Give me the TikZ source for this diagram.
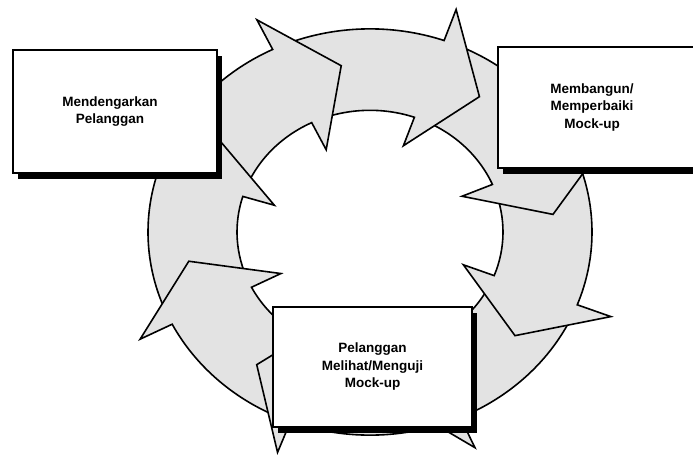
\documentclass[tikz,border=0pt]{standalone}
\usepackage{fontspec}
\setmainfont{Liberation Sans}
\usetikzlibrary{shadows}

\begin{document}
\begin{tikzpicture}[
  x=1pt,y=1pt,
  every node/.style={font=\fontsize{13.5}{17.5}\selectfont\bfseries,align=center},
  box/.style={draw,line width=1.8pt,fill=white,inner sep=0pt,
    drop shadow={shadow xshift=5pt,shadow yshift=-6pt,fill=black,opacity=1}},
  ringarrow/.style={draw,line width=1.6pt,fill=gray!22}
]
\fill[white] (0,0) rectangle (693,459);
\useasboundingbox (0,0) rectangle (693,459);
% ring of arrows (tail angle / base angle), each head lies over the next tail
\begin{scope}[shift={(370,227)},yscale=0.915]
\foreach \t/\b in {-24/-66,20/-21,67.5/23,113/70.5,160/116,-156/-197,-114/-153,-69/-111}
  \draw[ringarrow] (\t:222) arc[start angle=\t,end angle=\b,radius=222]
    -- (\b:258) -- ({\b-17}:184) -- (\b:100) -- (\b:133)
    arc[start angle=\b,end angle=\t,radius=133] -- cycle;
\end{scope}
\node[box,minimum width=204pt,minimum height=123pt,
  label={[xshift=-5pt]center:Mendengarkan\\Pelanggan}] (listen) at (115,347.5) {};
\node[box,minimum width=207pt,minimum height=121pt,
  label={[xshift=-9.5pt]center:Membangun/\\Memperbaiki\\Mock-up}] (build) at (601.5,351.5) {};
\node[box,minimum width=199pt,minimum height=120pt] (test) at (372.5,92) {Pelanggan\\Melihat/Menguji\\Mock-up};
\end{tikzpicture}
\end{document}
